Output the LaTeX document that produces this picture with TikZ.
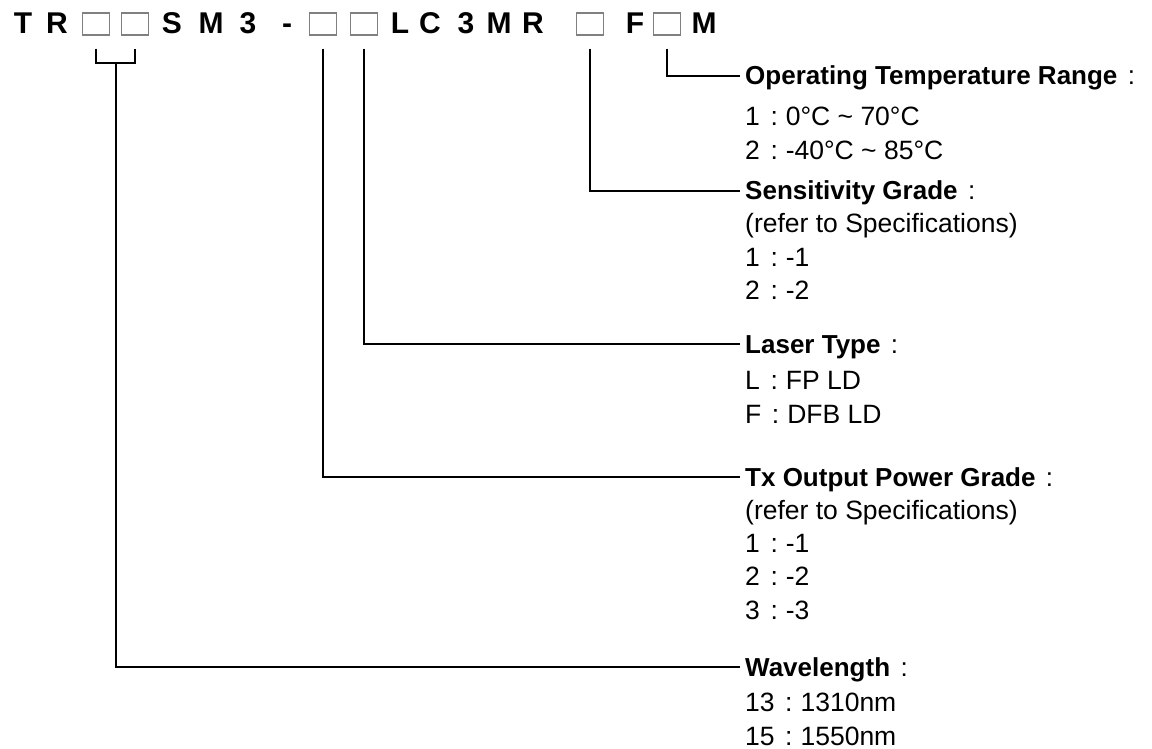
\documentclass[tikz,border=0pt]{standalone}
\usepackage{fontspec}
\setmainfont{Liberation Sans}
\newcommand{\fc}{\hspace{0.4em}{\mdseries:}\hspace{0.3em}}
\usetikzlibrary{calc}
\begin{document}
\begin{tikzpicture}[x=1pt,y=-1pt,
  ttl/.style={anchor=base, inner sep=0pt, font=\bfseries\fontsize{30}{36}\selectfont},
  slot/.style={draw=black!50, line width=1.2pt, minimum width=27pt, minimum height=22pt, inner sep=0pt},
  hd/.style={anchor=west, inner sep=0pt, text height=18pt, text depth=0pt, font=\bfseries\fontsize{26}{32}\selectfont},
  item/.style={anchor=base west, inner sep=0pt, font=\fontsize{26.5}{32}\selectfont},
  conn/.style={line width=2pt, shorten <=13pt, shorten >=5pt},
]
\useasboundingbox (0,0) rectangle (1152,749);
% title row
\node[ttl] (t1) at (23,34) {T};
\node[ttl] (t2) at (57,34) {R};
\node[slot] (b1) at (96,24) {};
\node[slot] (b2) at (135,24) {};
\node[ttl] (t3) at (172,34) {S};
\node[ttl] (t4) at (211,34) {M};
\node[ttl] (t5) at (248,34) {3};
\node[ttl] (t6) at (287,34) {-};
\node[slot] (b3) at (323,24) {};
\node[slot] (b4) at (364,24) {};
\node[ttl] (t7) at (400,34) {L};
\node[ttl] (t8) at (430,34) {C};
\node[ttl] (t9) at (466,34) {3};
\node[ttl] (t10) at (499,34) {M};
\node[ttl] (t11) at (533,34) {R};
\node[slot] (b5) at (590,24) {};
\node[ttl] (t12) at (635,34) {F};
\node[slot] (b6) at (667,24) {};
\node[ttl] (t13) at (704,34) {M};
% headings and items
\node[hd] (hop) at (745,76) {Operating Temperature Range\fc};
\node[item] (op1) at (745,126) {1\fc0°C \textasciitilde{} 70°C};
\node[item] (op2) at (745,160) {2\fc-40°C \textasciitilde{} 85°C};
\node[hd] (hse) at (745,191) {Sensitivity Grade\fc};
\node[item] (se0) at (745,233) {(refer to Specifications)};
\node[item] (se1) at (745,266) {1\fc-1};
\node[item] (se2) at (745,299) {2\fc-2};
\node[hd] (hla) at (745,344) {Laser Type\fc};
\node[item] (la1) at (745,389) {L\fc FP LD};
\node[item] (la2) at (745,423) {F\fc DFB LD};
\node[hd] (htx) at (745,477) {Tx Output Power Grade\fc};
\node[item] (tx0) at (745,519) {(refer to Specifications)};
\node[item] (tx1) at (745,552) {1\fc-1};
\node[item] (tx2) at (745,585) {2\fc-2};
\node[item] (tx3) at (745,619) {3\fc-3};
\node[hd] (hwl) at (745,667) {Wavelength\fc};
\node[item] (wl1) at (745,711) {13\fc1310nm};
\node[item] (wl2) at (745,745) {15\fc1550nm};
% connectors
\draw[line width=2pt] ([yshift=-13pt]b1.south) -- ([yshift=-27pt]b1.south) -- ([yshift=-27pt]b2.south) -- ([yshift=-13pt]b2.south);
\coordinate (br) at ($([yshift=-27pt]b1.south)!0.5!([yshift=-27pt]b2.south)$);
\draw[line width=2pt, shorten >=5pt] (br) |- (hwl.west);
\draw[conn] (b3.south) |- (htx.west);
\draw[conn] (b4.south) |- (hla.west);
\draw[conn] (b5.south) |- (hse.west);
\draw[conn] (b6.south) |- (hop.west);
\end{tikzpicture}
\end{document}
